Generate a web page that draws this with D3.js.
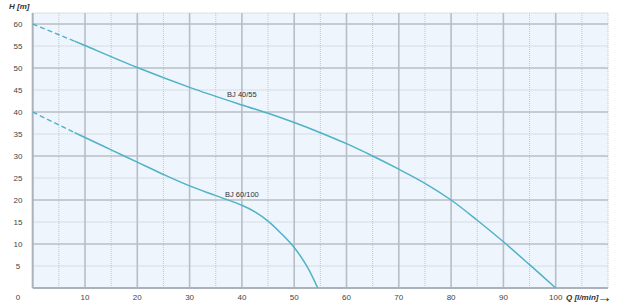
<!DOCTYPE html>
<html>
<head>
<meta charset="utf-8">
<script src="https://cdn.jsdelivr.net/npm/d3@7"></script>
<style>
  body { margin: 0; background: #fff; }
  text { font-family: "Liberation Sans Narrow", "Liberation Sans", Arial, sans-serif; }
</style>
</head>
<body>
<div id="chart"></div>
<script>
// pump curves
var q4055 = [0, 8, 10, 20, 30, 40, 45, 50, 55, 60, 65, 70, 75, 80, 85, 90, 95, 100];
var h4055 = [60, 56.1, 55.1, 50.1, 45.6, 41.6, 39.7, 37.6, 35.3, 32.8, 30, 27, 23.8, 20, 15.4, 10.5, 5.3, 0];

var q60100 = [0, 8, 10, 15, 20, 25, 30, 35, 40, 42.5, 45, 47.5, 50, 52.5, 54.5];
var h60100 = [40, 35.3, 34.2, 31.4, 28.6, 25.8, 23.2, 21, 18.8, 17.3, 15.2, 12.4, 9.2, 4.8, 0];

var xTicks = [10, 20, 30, 40, 50, 60, 70, 80, 90, 100];
var yTicks = [0, 5, 10, 15, 20, 25, 30, 35, 40, 45, 50, 55, 60];
var names = ["BJ 40/55", "BJ 60/100"];

var width = 638, height = 307;
var curveColor = "#4fb2c8";

var svg = d3.select("#chart").append("svg")
  .attr("width", width).attr("height", height);

var x = d3.scaleLinear().domain([0, 110]).range([32.7, 608]);
var y = d3.scaleLinear().domain([0, 62.5]).range([288, 13]);

// plot background
svg.append("rect")
  .attr("x", x(0)).attr("y", y(62.5))
  .attr("width", x(110) - x(0)).attr("height", y(0) - y(62.5))
  .attr("fill", "#eef5fc");

// minor dotted grid
var minorX = d3.range(5, 111, 10).concat([110]);
var minorY = d3.range(5, 60, 10).concat([62.5]);
svg.append("g").selectAll("line").data(minorX).join("line")
  .attr("x1", d => x(d)).attr("x2", d => x(d))
  .attr("y1", y(62.5)).attr("y2", y(0))
  .attr("stroke", "#bfc6cf").attr("stroke-width", 1).attr("stroke-dasharray", "1,1");
svg.append("g").selectAll("line").data(minorY).join("line")
  .attr("x1", x(0)).attr("x2", x(110))
  .attr("y1", d => y(d)).attr("y2", d => y(d))
  .attr("stroke", "#bfc6cf").attr("stroke-width", 1).attr("stroke-dasharray", "1,1");

// major grid
svg.append("g").selectAll("line").data(xTicks).join("line")
  .attr("x1", d => x(d)).attr("x2", d => x(d))
  .attr("y1", y(62.5)).attr("y2", y(0))
  .attr("stroke", "#b7bec7").attr("stroke-width", 1.6);
svg.append("g").selectAll("line").data(yTicks.filter(d => d % 10 == 0 && d > 0)).join("line")
  .attr("x1", x(0)).attr("x2", x(110))
  .attr("y1", d => y(d)).attr("y2", d => y(d))
  .attr("stroke", "#b7bec7").attr("stroke-width", 1.6);

// axes
svg.append("line")
  .attr("x1", x(0)).attr("x2", x(0)).attr("y1", y(62.5)).attr("y2", y(0))
  .attr("stroke", "#aab2bc").attr("stroke-width", 2);
svg.append("line")
  .attr("x1", x(0)).attr("x2", x(110)).attr("y1", y(0)).attr("y2", y(0))
  .attr("stroke", "#aab2bc").attr("stroke-width", 2);

// tick labels
svg.append("g").selectAll("text").data(yTicks.filter(d => d > 0)).join("text")
  .attr("x", 18).attr("y", d => y(d) + 3)
  .attr("text-anchor", "middle").attr("font-size", 8).attr("fill", "#444")
  .text(d => d);
svg.append("text")
  .attr("x", 18).attr("y", 300)
  .attr("text-anchor", "middle").attr("font-size", 8).attr("fill", "#444")
  .text("0");
svg.append("g").selectAll("text").data(xTicks).join("text")
  .attr("x", d => x(d)).attr("y", 300)
  .attr("text-anchor", "middle").attr("font-size", 8).attr("fill", "#444")
  .text(d => d);

// axis titles
svg.append("text")
  .attr("x", 9).attr("y", 9)
  .attr("font-size", 8).attr("font-weight", "bold").attr("font-style", "italic").attr("fill", "#333")
  .text("H [m]");
svg.append("text")
  .attr("x", 566).attr("y", 300)
  .attr("font-size", 8).attr("font-weight", "bold").attr("font-style", "italic").attr("fill", "#333")
  .text("Q  [l/min]");
svg.append("text")
  .attr("x", 597).attr("y", 301.5)
  .attr("font-size", 15).attr("font-weight", "bold").attr("fill", "#333")
  .text("\u2192");

// curves: first segment dashed (extrapolated), rest solid
var line = d3.line()
  .x(d => x(d[0])).y(d => y(d[1]))
  .curve(d3.curveCatmullRom.alpha(0.5));

[[q4055, h4055], [q60100, h60100]].forEach(function (s) {
  var pts = s[0].map((q, i) => [q, s[1][i]]);
  svg.append("path")
    .attr("d", line(pts.slice(0, 2)))
    .attr("fill", "none").attr("stroke", curveColor)
    .attr("stroke-width", 1.4).attr("stroke-dasharray", "5,3");
  svg.append("path")
    .attr("d", line(pts.slice(1)))
    .attr("fill", "none").attr("stroke", curveColor)
    .attr("stroke-width", 1.5);
});

// curve labels
svg.append("text")
  .attr("x", x(40)).attr("y", y(43.5))
  .attr("text-anchor", "middle").attr("font-size", 7.5).attr("fill", "#333")
  .text(names[0]);
svg.append("text")
  .attr("x", x(40)).attr("y", y(20.7))
  .attr("text-anchor", "middle").attr("font-size", 7.5).attr("fill", "#333")
  .text(names[1]);
</script>
</body>
</html>
